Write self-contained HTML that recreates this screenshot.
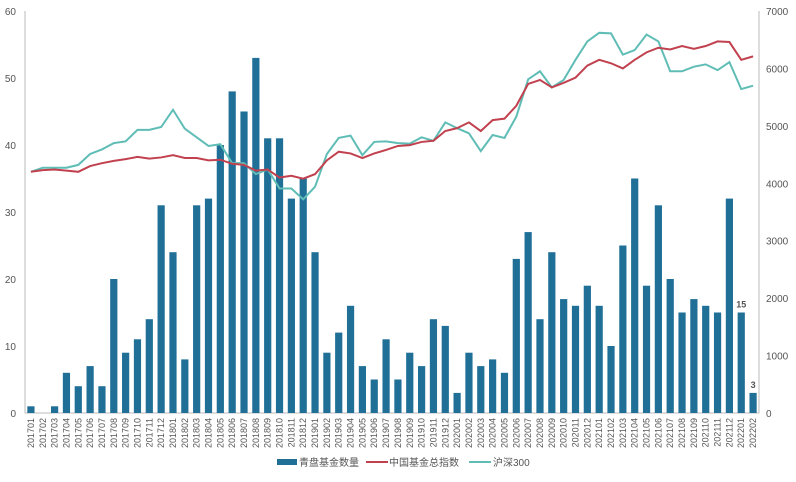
<!DOCTYPE html>
<html><head><meta charset="utf-8"><style>
body{margin:0;background:#fff}
svg text{font-family:"Liberation Sans","Noto Sans CJK SC",sans-serif;fill:#555}
</style></head><body>
<svg id="chart" width="796" height="477" xmlns="http://www.w3.org/2000/svg"></svg>
<script>
const categories=[];
for(let y=2017;y<=2022;y++)for(let m=1;m<=12;m++){if(y===2022&&m>2)break;categories.push(''+y+(m<10?'0':'')+m);}
const barValues=[1,0,1,6,4,7,4,20,9,11,14,31,24,8,31,32,40,48,45,53,41,41,32,35,24,9,12,16,7,5,11,5,9,7,14,13,3,9,7,8,6,23,27,14,24,17,16,19,16,10,25,35,19,31,20,15,17,16,15,32,15,3];
const fundIndex=[4200,4230,4240,4220,4200,4300,4350,4390,4420,4460,4430,4450,4490,4440,4440,4400,4410,4340,4320,4220,4240,4100,4130,4080,4160,4400,4550,4520,4440,4520,4580,4650,4665,4720,4740,4910,4960,5060,4910,5100,5125,5350,5730,5800,5670,5750,5840,6050,6150,6090,6000,6150,6280,6360,6330,6390,6340,6390,6470,6460,6150,6210];
const hs300=[4200,4270,4270,4270,4320,4510,4590,4700,4730,4930,4930,4980,5280,4950,4800,4650,4680,4350,4350,4160,4240,3910,3910,3720,3940,4510,4790,4830,4490,4720,4730,4700,4690,4800,4740,5060,4960,4870,4560,4840,4790,5160,5810,5950,5670,5800,6150,6470,6620,6610,6240,6320,6590,6470,5950,5950,6030,6070,5970,6110,5640,5700];
const leftTicks=[0,10,20,30,40,50,60];
const rightTicks=[0,1000,2000,3000,4000,5000,6000,7000];
const barLabels={60:'15',61:'3'};

const svg=document.getElementById('chart');const NS='http://www.w3.org/2000/svg';
const X0=25,X1=759,Y0=413,Y1=11;
const band=(X1-X0)/categories.length;
const xc=i=>X0+band*(i+0.5);
const yL=v=>Y0-(v/60)*(Y0-Y1);
const yR=v=>Y0-(v/7000)*(Y0-Y1);
function mk(tag,attrs,parent){const e=document.createElementNS(NS,tag);for(const k in attrs)e.setAttribute(k,attrs[k]);(parent||svg).appendChild(e);return e;}

let e;
e=mk('line',{x1:X0,y1:Y1,x2:X0,y2:Y0,stroke:'#bbb'});


e=mk('line',{x1:X1,y1:Y1,x2:X1,y2:Y0,stroke:'#bbb'});


e=mk('line',{x1:X0,y1:Y0,x2:X1,y2:Y0,stroke:'#bbb'});



leftTicks.forEach(v=>{const t=mk('text',{x:16,y:yL(v)+4,'font-size':10,'text-anchor':'end'});t.textContent=v;

});
rightTicks.forEach(v=>{const t=mk('text',{x:766,y:yR(v)+4,'font-size':10});t.textContent=v;

});

barValues.forEach((v,i)=>{const r=mk('rect',{x:xc(i)-3.6,y:yL(v),width:7.2,height:Y0-yL(v),fill:'#1f6f97'});


if(barLabels[i]){const t=mk('text',{x:xc(i),y:yL(v)-5,'font-size':9,'text-anchor':'middle','font-weight':'bold'});t.textContent=barLabels[i];

}});

function line(arr,color,name){const p=mk('polyline',{points:arr.map((v,i)=>xc(i)+','+yR(v)).join(' '),fill:'none',stroke:color,'stroke-width':2});

}
line(hs300,'#5fbdb6','hs300-line');
line(fundIndex,'#c1414f','fund-index-line');

categories.forEach((c,i)=>{const t=mk('text',{x:0,y:0,'font-size':9,'text-anchor':'end',transform:`translate(${xc(i)+3},418) rotate(-90)`});t.textContent=c;

});

const lg=mk('g',{});


e=mk('rect',{x:277,y:459,width:20,height:6,fill:'#1f6f97'},lg);


e=mk('text',{x:299,y:466,'font-size':10},lg);e.textContent='青盘基金数量';


e=mk('line',{x1:366,y1:462,x2:388,y2:462,stroke:'#c1414f','stroke-width':2},lg);


e=mk('text',{x:389,y:466,'font-size':10},lg);e.textContent='中国基金总指数';


e=mk('line',{x1:469,y1:462,x2:491,y2:462,stroke:'#5fbdb6','stroke-width':2},lg);


e=mk('text',{x:493,y:466,'font-size':10},lg);e.textContent='沪深300';


</script>
</body></html>
